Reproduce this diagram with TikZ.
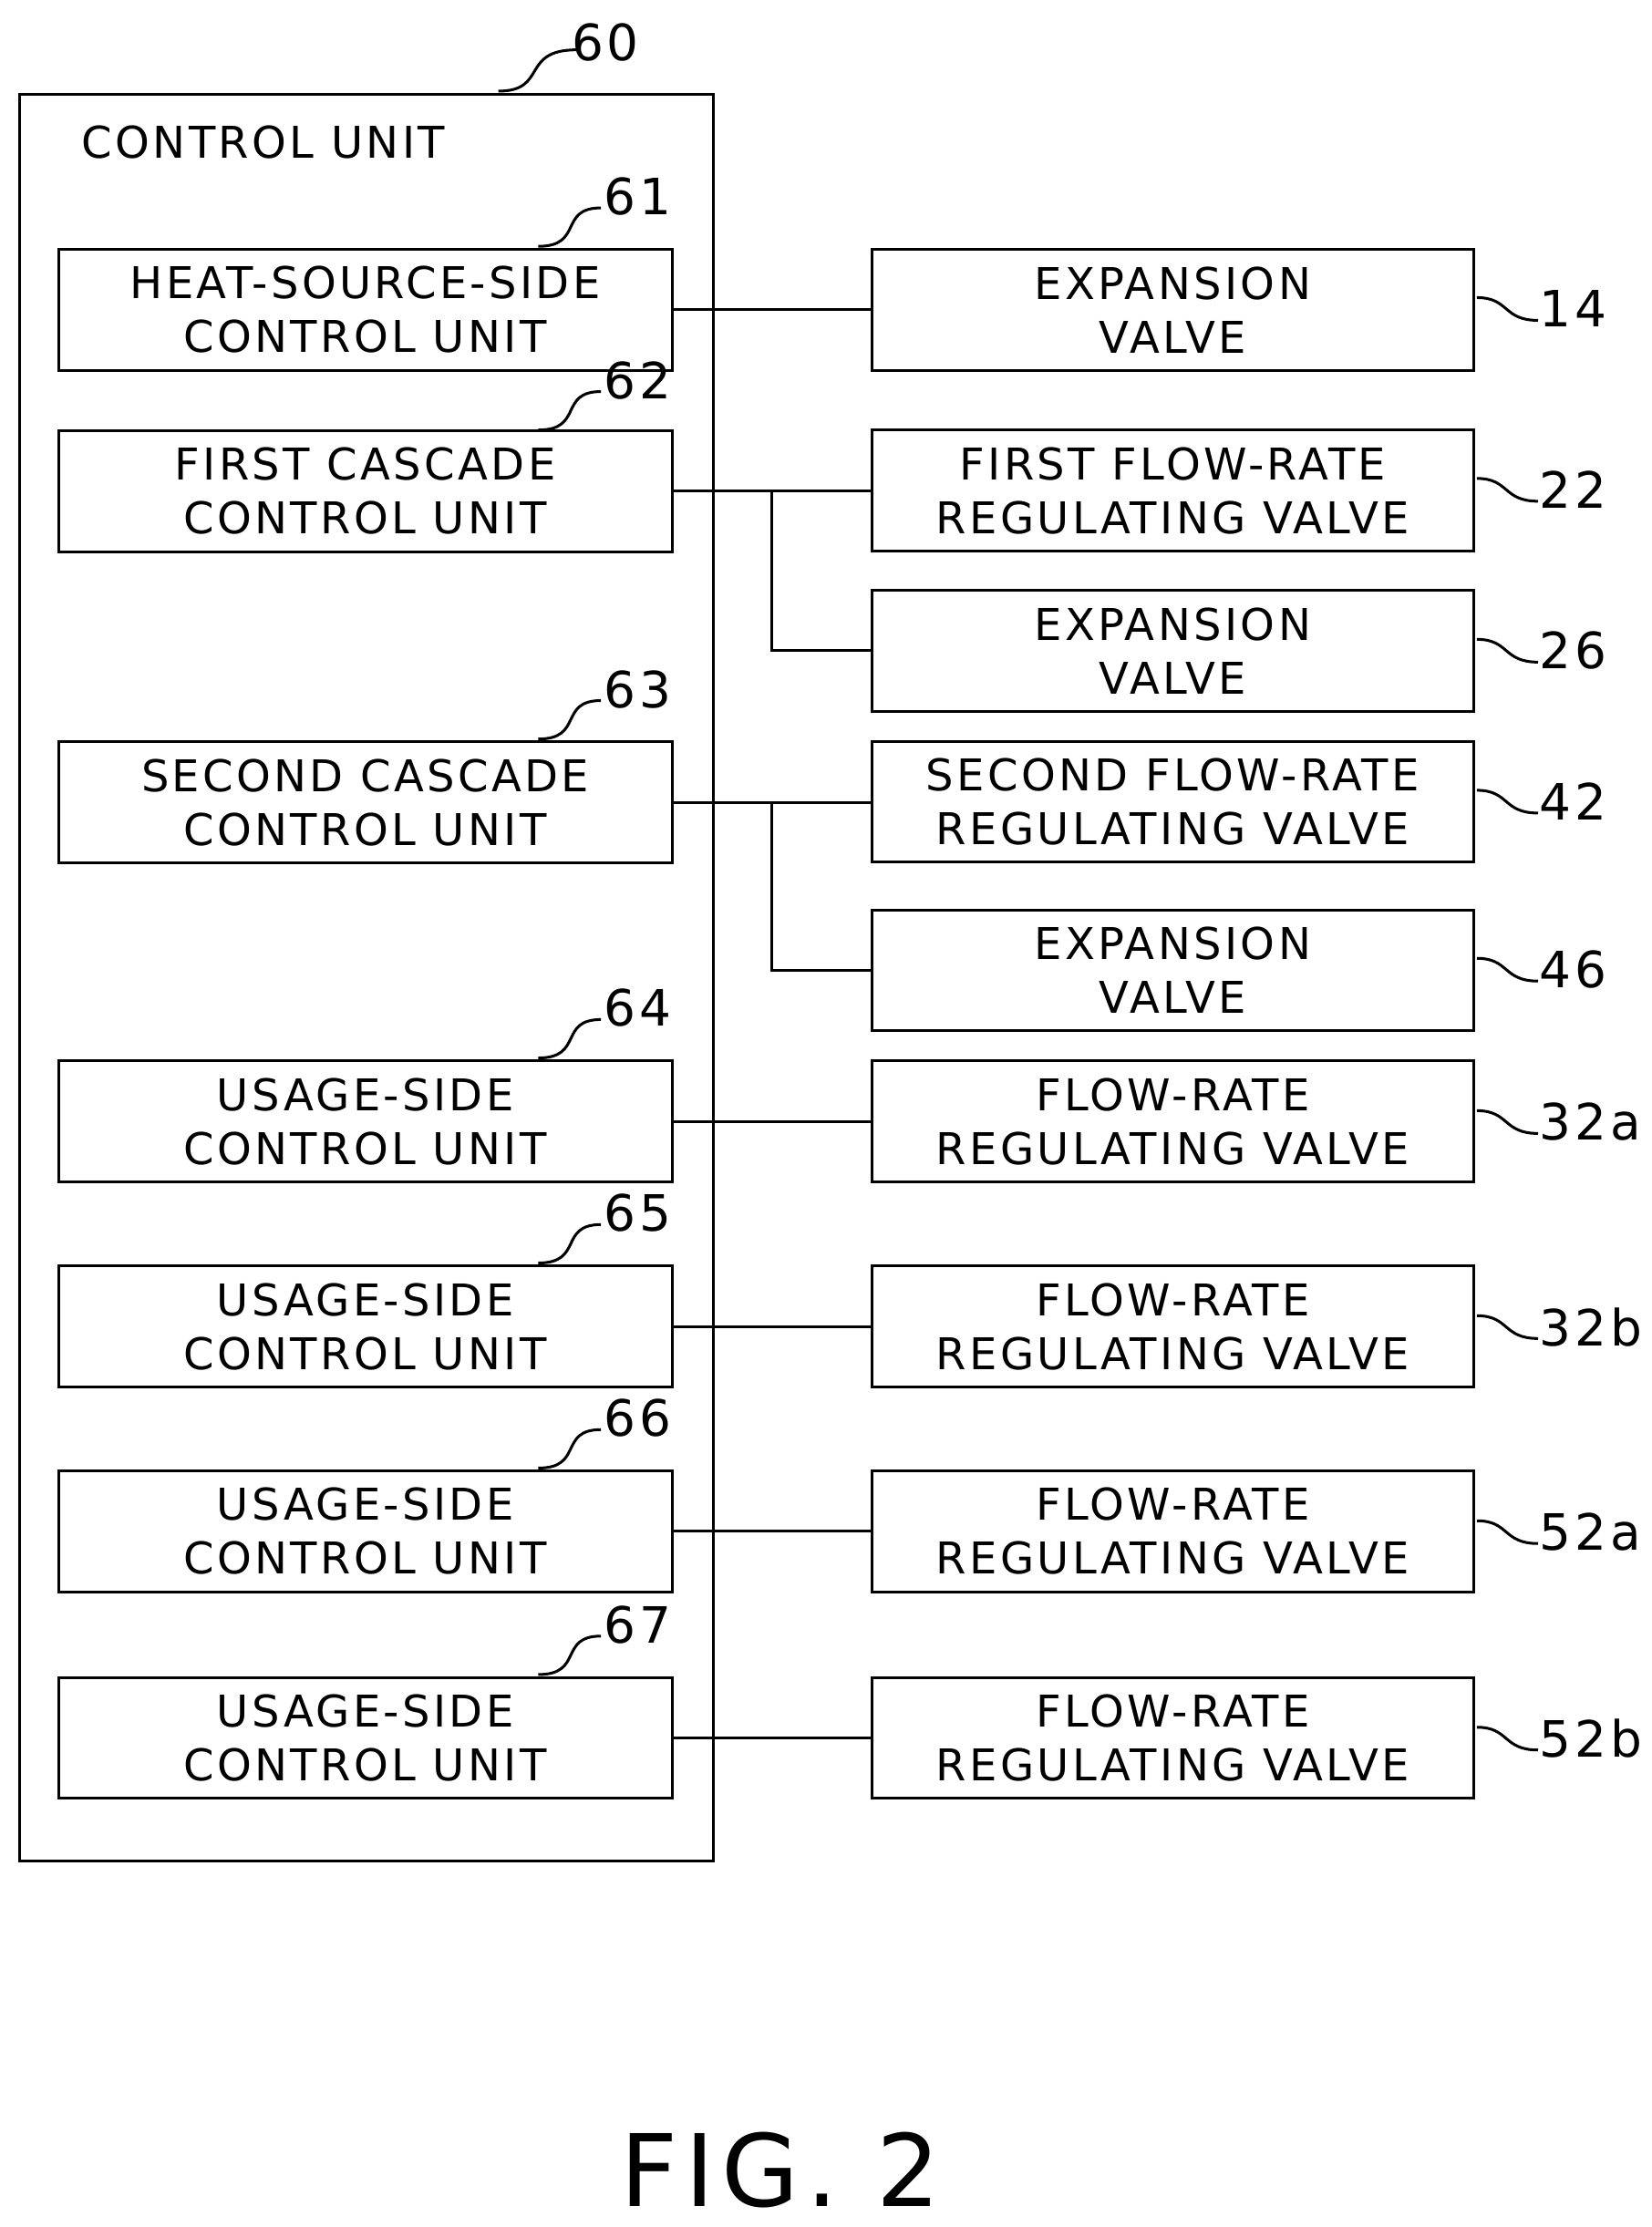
\documentclass[tikz,border=0pt]{standalone}
\usepackage{fontspec}
\setmainfont{DejaVu Sans}[LetterSpace=7]
\usepackage{tikz}
\tikzset{
  unitbox/.style={draw, line width=1.1pt, minimum width=8.62cm, minimum height=1.7cm, align=center, inner sep=0pt, font=\fontsize{17.5}{21.5}\selectfont},
  valvebox/.style={draw, line width=1.1pt, minimum width=8.46cm, minimum height=1.7cm, align=center, inner sep=0pt, font=\fontsize{17.5}{21.5}\selectfont},
  refnum/.style={font=\fontsize{20}{22}\selectfont, inner sep=1pt},
  wire/.style={line width=1.1pt}
}
\begin{document}
\begin{tikzpicture}[x=0.02cm, y=-0.02cm]
  \useasboundingbox (0,0) rectangle (1160,1564);
  % outer unit
  \draw[line width=1.1pt] (14,66) rectangle (501,1307);
  \node[font=\fontsize{17.5}{20}\selectfont] (cu) at (185,100) {CONTROL UNIT};
  \node[refnum] (n60) at (425,30) {60};
  \draw[wire] (350,64) .. controls (385,64) and (365,35) .. (405,35);

  % left column
  \node[unitbox] (u61) at (256.5,217.5) {HEAT-SOURCE-SIDE\\CONTROL UNIT};
  \node[unitbox] (u62) at (256.5,345) {FIRST CASCADE\\CONTROL UNIT};
  \node[unitbox] (u63) at (256.5,563.5) {SECOND CASCADE\\CONTROL UNIT};
  \node[unitbox] (u64) at (256.5,787.5) {USAGE-SIDE\\CONTROL UNIT};
  \node[unitbox] (u65) at (256.5,931.5) {USAGE-SIDE\\CONTROL UNIT};
  \node[unitbox] (u66) at (256.5,1075.5) {USAGE-SIDE\\CONTROL UNIT};
  \node[unitbox] (u67) at (256.5,1220.5) {USAGE-SIDE\\CONTROL UNIT};

  % right column
  \node[valvebox] (v14) at (823.5,217.5) {EXPANSION\\VALVE};
  \node[valvebox] (v22) at (823.5,344.5) {FIRST FLOW-RATE\\REGULATING VALVE};
  \node[valvebox] (v26) at (823.5,457) {EXPANSION\\VALVE};
  \node[valvebox] (v42) at (823.5,563) {SECOND FLOW-RATE\\REGULATING VALVE};
  \node[valvebox] (v46) at (823.5,681.5) {EXPANSION\\VALVE};
  \node[valvebox] (v32a) at (823.5,787.5) {FLOW-RATE\\REGULATING VALVE};
  \node[valvebox] (v32b) at (823.5,931.5) {FLOW-RATE\\REGULATING VALVE};
  \node[valvebox] (v52a) at (823.5,1075.5) {FLOW-RATE\\REGULATING VALVE};
  \node[valvebox] (v52b) at (823.5,1220.5) {FLOW-RATE\\REGULATING VALVE};

  % connections
  \draw[wire] (u61.east) -- (u61.east -| v14.west);
  \draw[wire] (u62.east) -- (u62.east -| v22.west);
  \draw[wire] (542,345) |- (v26.west);
  \draw[wire] (u63.east) -- (u63.east -| v42.west);
  \draw[wire] (542,563.5) |- (v46.west);
  \draw[wire] (u64.east) -- (v32a.west);
  \draw[wire] (u65.east) -- (v32b.west);
  \draw[wire] (u66.east) -- (v52a.west);
  \draw[wire] (u67.east) -- (v52b.west);

  % left reference numbers
  \foreach \n/\y in {61/173, 62/302, 63/519, 64/743, 65/887, 66/1031, 67/1176} {
    \draw[wire] (378,\y) .. controls (410,\y) and (392,\y-27) .. (422,\y-27);
    \node[refnum, anchor=west] (r\n) at (422,\y-35) {\n};
  }
  % right reference numbers
  \foreach \n/\y in {14/217, 22/344, 26/457, 42/563, 46/681, 32a/788, 32b/932, 52a/1076, 52b/1221} {
    \draw[wire] (1037,\y-8) .. controls (1060,\y-8) and (1055,\y+8) .. (1080,\y+8);
    \node[refnum, anchor=west] (r\n) at (1079,\y) {\n};
  }

  \node[font=\fontsize{40}{44}\selectfont] (fig) at (548,1524) {FIG. 2};
\end{tikzpicture}
\end{document}
